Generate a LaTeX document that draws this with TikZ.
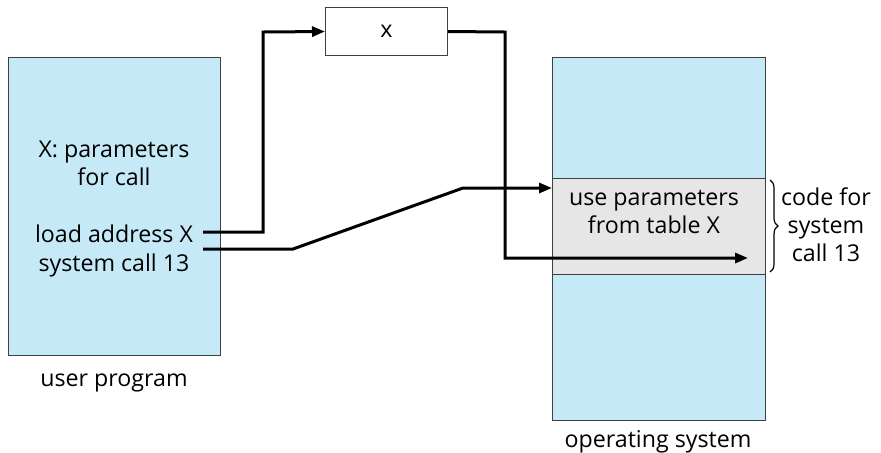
\documentclass[tikz,border=0pt]{standalone}
\usepackage{fontspec}
\setmainfont{Open Sans}
\usetikzlibrary{arrows.meta,positioning,decorations.pathreplacing}
\definecolor{memblue}{RGB}{198,233,248}
\definecolor{codegray}{RGB}{230,230,230}
\tikzset{
  >={Triangle[length=6.5pt,width=5pt]},
  mem/.style ={draw=black!75, line width=0.5pt, fill=memblue, anchor=north west, inner sep=0pt},
  band/.style={draw=black!75, line width=0.5pt, fill=codegray, anchor=north west, inner sep=0pt},
  cell/.style={draw=black!75, line width=0.5pt, fill=white, inner sep=0pt},
  txt/.style ={align=center, font=\fontsize{11.6}{14}\selectfont, inner sep=0pt},
  flow/.style={line width=1.5pt}
}
\begin{document}
\begin{tikzpicture}[x=0.5pt,y=-0.5pt]
\useasboundingbox (0,0) rectangle (881,452);
% user side
\node[mem, minimum width=106pt, minimum height=149pt] (user) at (8,57) {};
\node[txt] (params) at (114,163) {X: parameters\\for call};
\node[txt, anchor=base] (load) at (114,242) {load address X};
\node[txt, anchor=base] (sys) at (114,271) {system call 13};
\node[txt, anchor=base] (ulabel) at (114,386) {user program};
% parameter table
\node[cell, minimum width=61pt, minimum height=24pt, anchor=north west] (tab) at (325,7) {};
\node[txt] at (tab.center) {x};
% operating system side
\node[mem, minimum width=106.5pt, minimum height=181.5pt] (os) at (552,57) {};
\node[band, minimum width=106.5pt, minimum height=48pt] (code) at (552,178) {};
\node[txt] (use) at (654,212) {use parameters\\from table X};
\node[txt, anchor=base] (olabel) at (658,447) {operating system};
\node[txt] (note) at (826,225) {code for\\system\\call 13};
\draw[decorate, decoration={brace, amplitude=4pt}, line width=0.6pt]
  (770,180) -- (770,272);
% connectors
\coordinate (c1) at (203,232);
\coordinate (c2) at (203,249);
\coordinate (tip) at (748,258);
\draw[flow,->] (c1) -- (263,232) -- (263,32) -- (tab.west);
\draw[flow,->] (tab.east) -- (505,32) -- (505,258) -- (tip);
\draw[flow,->] (c2) -- (293,249) -- (463,188) -- (code.north west |- 0,188);
\end{tikzpicture}
\end{document}
